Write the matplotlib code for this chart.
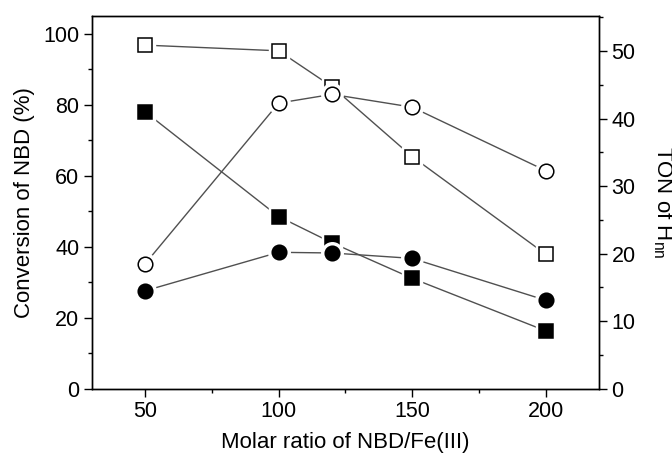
import matplotlib
matplotlib.use("Agg")
import matplotlib.pyplot as plt
from matplotlib.ticker import MultipleLocator

plt.rcParams['font.family'] = ['Liberation Sans', 'DejaVu Sans']
plt.rcParams['mathtext.fontset'] = 'custom'
plt.rcParams['mathtext.rm'] = 'Liberation Sans'

# molar ratio NBD/Fe(III)
ratio = [50, 100, 120, 150, 200]

# conversion of NBD (%), left axis
conv_open = [96.8, 95.2, 85.1, 65.4, 37.9]
conv_filled = [78.0, 48.5, 41.1, 31.1, 16.3]

# TON of H_nn, right axis
ton_open = [18.5, 42.3, 43.6, 41.7, 32.3]
ton_filled = [14.5, 20.2, 20.1, 19.3, 13.1]

line_col = '#505050'
fs = 15.5


def draw(ax, x, y, marker, face, ms):
    # line first, then a white halo so the line stops short of the marker
    ax.plot(x, y, '-', color=line_col, lw=1.0, zorder=2)
    ax.plot(x, y, marker, ls='none', ms=ms + 5, mfc='white', mec='white', zorder=3)
    ax.plot(x, y, marker, ls='none', ms=ms, mfc=face, mec='black', mew=1.1, zorder=4)


fig = plt.figure(figsize=(6.72, 4.59), dpi=100)
ax = fig.add_axes([0.1365, 0.1532, 0.7549, 0.8119])
ax2 = ax.twinx()

draw(ax, ratio, conv_open, 's', 'white', 9.5)
draw(ax, ratio, conv_filled, 's', 'black', 9.5)
draw(ax2, ratio, ton_open, 'o', 'white', 10.5)
draw(ax2, ratio, ton_filled, 'o', 'black', 10.5)

ax.set_xlim(30, 220)
ax.set_ylim(0, 105)
ax2.set_ylim(0, 55.2)

ax.xaxis.set_major_locator(MultipleLocator(50))
ax.xaxis.set_minor_locator(MultipleLocator(25))
ax.yaxis.set_major_locator(MultipleLocator(20))
ax.yaxis.set_minor_locator(MultipleLocator(10))
ax2.yaxis.set_major_locator(MultipleLocator(10))
ax2.yaxis.set_minor_locator(MultipleLocator(5))

ax.tick_params(which='both', direction='out', top=False, right=False,
               labelsize=fs, width=1, pad=3.5)
ax.tick_params(which='major', length=5.5)
ax.tick_params(which='minor', length=3)
ax2.tick_params(which='both', direction='out', labelsize=fs, width=1, pad=3.5)
ax2.tick_params(which='major', length=5.5)
ax2.tick_params(which='minor', length=3)

for a in (ax, ax2):
    for s in a.spines.values():
        s.set_linewidth(1.0)

ax.set_xlabel('Molar ratio of NBD/Fe(III)', fontsize=fs + 0.5, labelpad=7)
ax.set_ylabel('Conversion of NBD (%)', fontsize=fs + 0.5, labelpad=6)
ax2.set_ylabel('TON of H$_{\\mathregular{nn}}$', fontsize=fs + 0.5, rotation=270,
               labelpad=28)

fig.savefig('out.png', dpi=100)
